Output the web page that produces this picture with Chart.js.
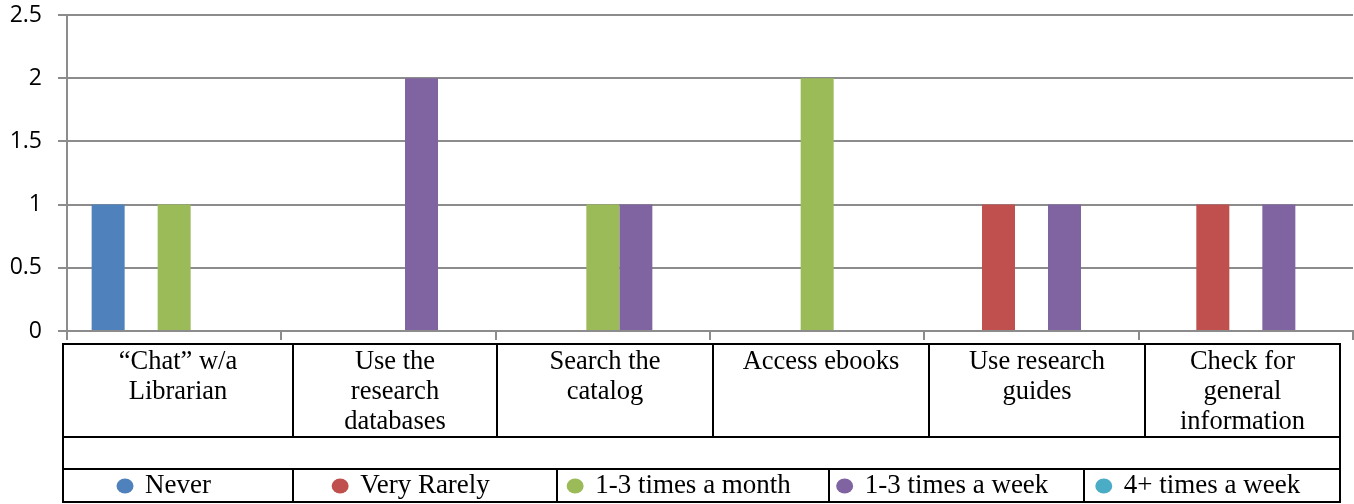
<!DOCTYPE html>
<html>
<head>
<meta charset="utf-8">
<script src="https://cdn.jsdelivr.net/npm/chart.js@4.4.1/dist/chart.umd.min.js"></script>
<style>
  html, body { margin: 0; padding: 0; background: #fff; }
  #wrap { width: 1354px; height: 504px; }
</style>
</head>
<body>
<div id="wrap"><canvas id="chart" width="1354" height="504"></canvas></div>
<script>
// categories (lines as they wrap in the data table)
const CATEGORIES = [
  ['\u201CChat\u201D w/a', 'Librarian'],
  ['Use the', 'research', 'databases'],
  ['Search the', 'catalog'],
  ['Access ebooks'],
  ['Use research', 'guides'],
  ['Check for', 'general', 'information'],
];

const SERIES = ['Never', 'Very Rarely', '1-3 times a month', '1-3 times a week', '4+ times a week'];

const NEVER       = [1, 0, 0, 0, 0, 0];
const VERY_RARELY = [0, 0, 0, 0, 1, 1];
const MONTHLY     = [1, 0, 1, 2, 0, 0];
const WEEKLY      = [0, 2, 1, 0, 1, 1];
const FOUR_PLUS   = [0, 0, 0, 0, 0, 0];

const Y_TICKS = [0, 0.5, 1, 1.5, 2, 2.5];

const COLORES = ['#4F81BD', '#C0504D', '#9BBB59', '#8064A2', '#4BACC6'];
const GRIS = '#8C8C8C';

// data table under the plot: column edges (px) and row edges (px)
const TABLA = {
  catCols: [63, 293, 497, 713, 929, 1145, 1340],
  legCols: [63, 293, 557, 829, 1084, 1340],
  rows: [344, 437, 469, 502],
};

const tablaPlugin = {
  id: 'tabla',
  afterDraw(chart) {
    const ctx = chart.ctx;
    const t = TABLA;
    const left = t.catCols[0], right = t.catCols[t.catCols.length - 1];
    ctx.save();
    ctx.strokeStyle = '#000';
    ctx.lineWidth = 2;

    // outer frame + row lines
    ctx.strokeRect(left, t.rows[0], right - left, t.rows[3] - t.rows[0]);
    [t.rows[1], t.rows[2]].forEach(y => {
      ctx.beginPath(); ctx.moveTo(left, y); ctx.lineTo(right, y); ctx.stroke();
    });
    // category dividers
    t.catCols.slice(1, -1).forEach(x => {
      ctx.beginPath(); ctx.moveTo(x, t.rows[0]); ctx.lineTo(x, t.rows[1]); ctx.stroke();
    });
    // legend dividers
    t.legCols.slice(1, -1).forEach(x => {
      ctx.beginPath(); ctx.moveTo(x, t.rows[2]); ctx.lineTo(x, t.rows[3]); ctx.stroke();
    });

    // category labels
    ctx.fillStyle = '#000';
    ctx.font = '26.5px "Liberation Serif"';
    ctx.textAlign = 'center';
    ctx.textBaseline = 'alphabetic';
    chart.data.labels.forEach((lines, i) => {
      const cx = (t.catCols[i] + t.catCols[i + 1]) / 2;
      lines.forEach((ln, j) => ctx.fillText(ln, cx, t.rows[0] + 25 + j * 30));
    });

    // legend entries
    ctx.font = '27px "Liberation Serif"';
    chart.data.datasets.forEach((ds, i) => {
      const cx = (t.legCols[i] + t.legCols[i + 1]) / 2;
      const w = ctx.measureText(ds.label).width;
      const y = t.rows[3] - 9;
      ctx.fillStyle = '#000';
      ctx.textAlign = 'center';
      ctx.fillText(ds.label, cx, y);
      ctx.fillStyle = ds.backgroundColor;
      ctx.beginPath();
      ctx.ellipse(cx - w / 2 - 20, y - 7, 8.5, 7.5, 0, 0, Math.PI * 2);
      ctx.fill();
    });
    ctx.restore();
  }
};

const series = [NEVER, VERY_RARELY, MONTHLY, WEEKLY, FOUR_PLUS];

new Chart(document.getElementById('chart'), {
  type: 'bar',
  data: {
    labels: CATEGORIES,
    datasets: SERIES.map((s, i) => ({
      label: s,
      data: series[i],
      backgroundColor: COLORES[i],
      borderWidth: 0,
      categoryPercentage: 0.77,
      barPercentage: 1.0,
    }))
  },
  options: {
    responsive: false,
    animation: false,
    layout: { padding: { top: 15, right: 1, bottom: 0, left: 0 } },
    plugins: {
      legend: { display: false },
      tooltip: { enabled: false }
    },
    scales: {
      x: {
        ticks: { display: false },
        grid: { drawOnChartArea: false, drawTicks: true, tickLength: 9, color: GRIS, lineWidth: 2 },
        border: { display: true, color: GRIS, width: 2 },
        afterFit: s => { s.height = 173; }
      },
      y: {
        min: 0,
        max: Y_TICKS[Y_TICKS.length - 1],
        afterBuildTicks: s => { s.ticks = Y_TICKS.map(v => ({ value: v })); },
        ticks: {
          padding: 16,
          color: '#000',
          font: { family: 'Open Sans', size: 23 },
          callback: v => String(v)
        },
        grid: { color: GRIS, lineWidth: 2, tickLength: 9 },
        border: { display: true, color: GRIS, width: 2 },
        afterFit: s => { s.width = 67; s.paddingTop = 0; s.paddingBottom = 0; }
      }
    }
  },
  plugins: [tablaPlugin]
});
</script>
</body>
</html>
